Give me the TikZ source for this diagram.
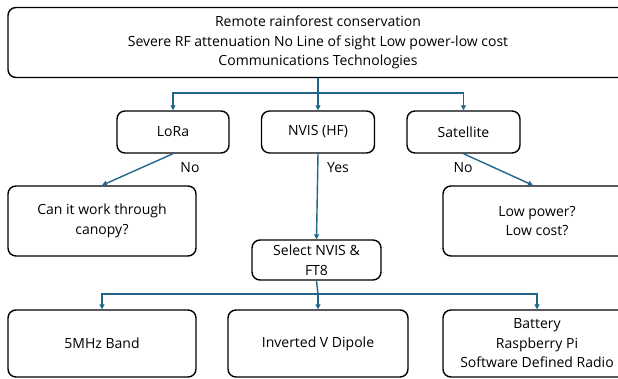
\documentclass[tikz,border=0pt]{standalone}
\usepackage{fontspec}
\setmainfont{Open Sans}
\usetikzlibrary{arrows.meta}
\definecolor{linkblue}{RGB}{32,102,138}

\tikzset{
  box/.style={draw=black,line width=1.4pt,rounded corners=8pt,align=center,
    inner sep=0pt,font=\fontsize{14}{19.5}\selectfont},
  link/.style={draw=linkblue,line width=1.4pt},
  arr/.style={link,-{Triangle[length=5pt,width=5pt]}},
  lbl/.style={font=\fontsize{14}{15}\selectfont,inner sep=0pt}
}

\begin{document}
\begin{tikzpicture}[x=1pt,y=-1pt]
                \useasboundingbox (0,0) rectangle (618,378);
                \clip (0,0) rectangle (618,378);
                % top row
                \node[box,minimum width=620pt,minimum height=70pt] (top) at (318,42.5)
                  {Remote rainforest conservation\\Severe RF attenuation No Line of sight Low power-low cost\\Communications Technologies};
                \node[box,minimum width=112pt,minimum height=42pt] (lora) at (173,132) {LoRa};
                \node[box,minimum width=113pt,minimum height=42pt] (nvis) at (318,132) {NVIS (HF)};
                \node[box,minimum width=113pt,minimum height=42pt] (sat) at (463.5,132) {Satellite};
                % questions
                \node[box,minimum width=188pt,minimum height=70pt] (canopy) at (102,221) {Can it work through\\canopy?};
                \node[box,minimum width=188pt,minimum height=70pt] (lowpow) at (537,221) {Low power?\\Low cost?};
                \node[box,minimum width=129pt,minimum height=40pt] (select) at (316.5,260) {Select NVIS \&\\FT8};
                % bottom row
                \node[box,minimum width=188pt,minimum height=67pt] (band) at (102,343.5) {5MHz Band};
                \node[box,minimum width=180pt,minimum height=67pt] (dipole) at (318,343.5) {Inverted V Dipole};
                \node[box,minimum width=188pt,minimum height=67pt] (kit) at (537,343.5)
                  {Battery\\Raspberry Pi\\Software Defined Radio};
                % branches
                \coordinate (split1) at (318,93);
                \coordinate (split2) at (318,294);
                \draw[link] (top.south) -- (split1);
                \draw[arr] (split1) -| (lora.north);
                \draw[arr] (split1) -- (nvis.north);
                \draw[arr] (split1) -| (sat.north);
                \draw[arr] (lora.south) -- (canopy.north);
                \draw[arr] (nvis.south) -- (select.north);
                \draw[arr] (sat.south) -- ([xshift=-4pt]lowpow.north);
                \draw[link] (select.south) -- (split2);
                \draw[arr] (split2) -| (band.north);
                \draw[arr] (split2) -- (dipole.north);
                \draw[arr] (split2) -| (kit.north);
                % answers
                \node[lbl] (no1) at (190,168) {No};
                \node[lbl] (yes) at (338,168) {Yes};
                \node[lbl] (no2) at (463,168) {No};
            \end{tikzpicture}
\end{document}
